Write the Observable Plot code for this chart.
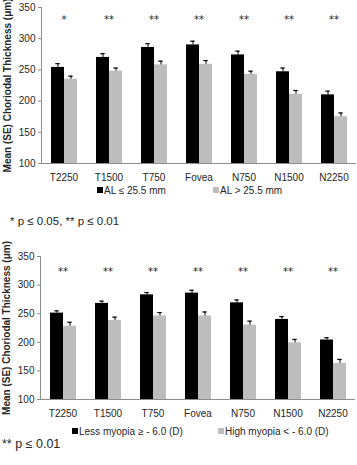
<!DOCTYPE html>
<html>
<head>
<meta charset="utf-8">
<script src="https://cdn.jsdelivr.net/npm/d3@7"></script>
<script src="https://cdn.jsdelivr.net/npm/@observablehq/plot@0.6"></script>
<style>
  html, body { margin: 0; padding: 0; background: #fff; }
  #root { position: relative; width: 357px; height: 465px; overflow: hidden; font-family: "Liberation Sans", Arial, sans-serif; color: #262626; }
  .chart { position: absolute; left: 0; }
  .chart svg text { fill: #262626; }
  .legend { position: absolute; font-size: 10px; line-height: 12px; white-space: nowrap; }
  .legend .item { position: absolute; top: 0; }
  .legend .sw { display: inline-block; width: 6px; height: 6px; margin-right: 1px; vertical-align: 1px; }
  .note { position: absolute; white-space: nowrap; color: #262626; line-height: 14px; }
</style>
</head>
<body>
<div id="root"></div>
<script>
// ---- data ----
const categories = ["T2250", "T1500", "T750", "Fovea", "N750", "N1500", "N2250"];
const yTicks = [100, 150, 200, 250, 300, 350];
const yLabel = "Mean (SE) Choriodal Thickness (μm)";
const colors = ["#000000", "#bdbdbd"];

// Top chart: axial length groups
const seriesTop = ["AL ≤ 25.5 mm", "AL > 25.5 mm"];
const topShort = [254, 270, 286, 290, 274, 247, 210];
const topShortSE = [6, 6, 6, 6, 6, 6, 6];
const topLong = [235, 248, 258, 259, 243, 211, 175];
const topLongSE = [5, 5, 6, 6, 5, 6, 6];
const topSig = ["*", "**", "**", "**", "**", "**", "**"];
const topNote = "* p ≤ 0.05, ** p ≤ 0.01";

// Bottom chart: myopia groups
const seriesBottom = ["Less myopia ≥ - 6.0 (D)", "High myopia < - 6.0 (D)"];
const botLess = [251, 268, 283, 286, 269, 240, 204];
const botLessSE = [4, 4, 4, 5, 5, 5, 4];
const botHigh = [228, 238, 246, 246, 230, 199, 163];
const botHighSE = [7, 6, 6, 7, 7, 6, 7];
const botSig = ["**", "**", "**", "**", "**", "**", "**"];
const botNote = "** p ≤ 0.01";

function rows(series, a, aSE, b, bSE) {
  const out = [];
  categories.forEach((c, i) => {
    out.push({cat: c, group: series[0], value: a[i], se: aSE[i]});
    out.push({cat: c, group: series[1], value: b[i], se: bSE[i]});
  });
  return out;
}

function chart({series, data, sig, starY, height, marginTop, marginBottom, marginLeft}) {
  const sigRows = categories.map((c, i) => ({cat: c, s: sig[i]}));
  const base = yTicks[0];
  return Plot.plot({
    width: 357, height, marginTop, marginBottom, marginLeft, marginRight: 1,
    style: {fontFamily: "Liberation Sans, Arial, sans-serif", fontSize: "10px", color: "#8c8c8c", background: "transparent", overflow: "visible"},
    fx: {domain: categories, padding: 0, axis: "bottom", tickSize: 0, tickPadding: 10, label: null},
    x: {domain: series, paddingInner: 0, paddingOuter: 0.667, axis: null},
    y: {domain: [yTicks[0], yTicks[yTicks.length - 1]], ticks: yTicks, tickSize: 3, tickPadding: 3, line: true, label: null},
    color: {domain: series, range: colors},
    marks: [
      Plot.barY(data, {fx: "cat", x: "group", y1: () => base, y2: "value", fill: "group"}),
      Plot.ruleX(data, {fx: "cat", x: "group", y1: "value", y2: d => d.value + d.se, stroke: "#000", strokeWidth: 1}),
      Plot.tickY(data, {fx: "cat", x: "group", y: d => d.value + d.se, stroke: "#000", strokeWidth: 1.2, insetLeft: 4.3, insetRight: 4.3}),
      Plot.ruleY([base], {stroke: "#8c8c8c"}),
      Plot.text(sigRows, {fx: "cat", text: "s", y: () => starY, dy: 2.5, fontSize: 10, fontFamily: "DejaVu Sans", fill: "#333"}),
      Plot.text([{cat: categories[0], t: yLabel}], {fx: "cat", text: "t", frameAnchor: "left", textAnchor: "middle", rotate: -90, dx: -34, fontWeight: "bold", fontSize: 10, fill: "#000"})
    ]
  });
}

function legend(series, top, pos) {
  const d = document.createElement("div");
  d.className = "legend";
  d.style.top = top + "px";
  d.style.left = "0px";
  series.forEach((s, i) => {
    const it = document.createElement("div");
    it.className = "item";
    it.style.left = pos[i] + "px";
    const sw = document.createElement("span");
    sw.className = "sw";
    sw.style.background = colors[i];
    it.appendChild(sw);
    it.appendChild(document.createTextNode(s));
    d.appendChild(it);
  });
  return d;
}

function note(text, left, top, size) {
  const n = document.createElement("div");
  n.className = "note";
  n.style.left = left + "px";
  n.style.top = top + "px";
  n.style.fontSize = size + "px";
  n.textContent = text;
  return n;
}

const root = document.getElementById("root");

const c1 = document.createElement("div");
c1.className = "chart"; c1.style.top = "0px";
c1.appendChild(chart({series: seriesTop, data: rows(seriesTop, topShort, topShortSE, topLong, topLongSE), sig: topSig, starY: 334, height: 185, marginTop: 7, marginBottom: 22, marginLeft: 41}));
root.appendChild(c1);
root.appendChild(legend(seriesTop, 185, [97, 213]));
root.appendChild(note(topNote, 10, 214, 11.5));

const c2 = document.createElement("div");
c2.className = "chart"; c2.style.top = "240px";
c2.appendChild(chart({series: seriesBottom, data: rows(seriesBottom, botLess, botLessSE, botHigh, botHighSE), sig: botSig, starY: 328, height: 180, marginTop: 16, marginBottom: 21, marginLeft: 38}));
root.appendChild(c2);
root.appendChild(legend(seriesBottom, 426, [72, 218]));
root.appendChild(note(botNote, 2, 437, 12.5));
</script>
</body>
</html>
